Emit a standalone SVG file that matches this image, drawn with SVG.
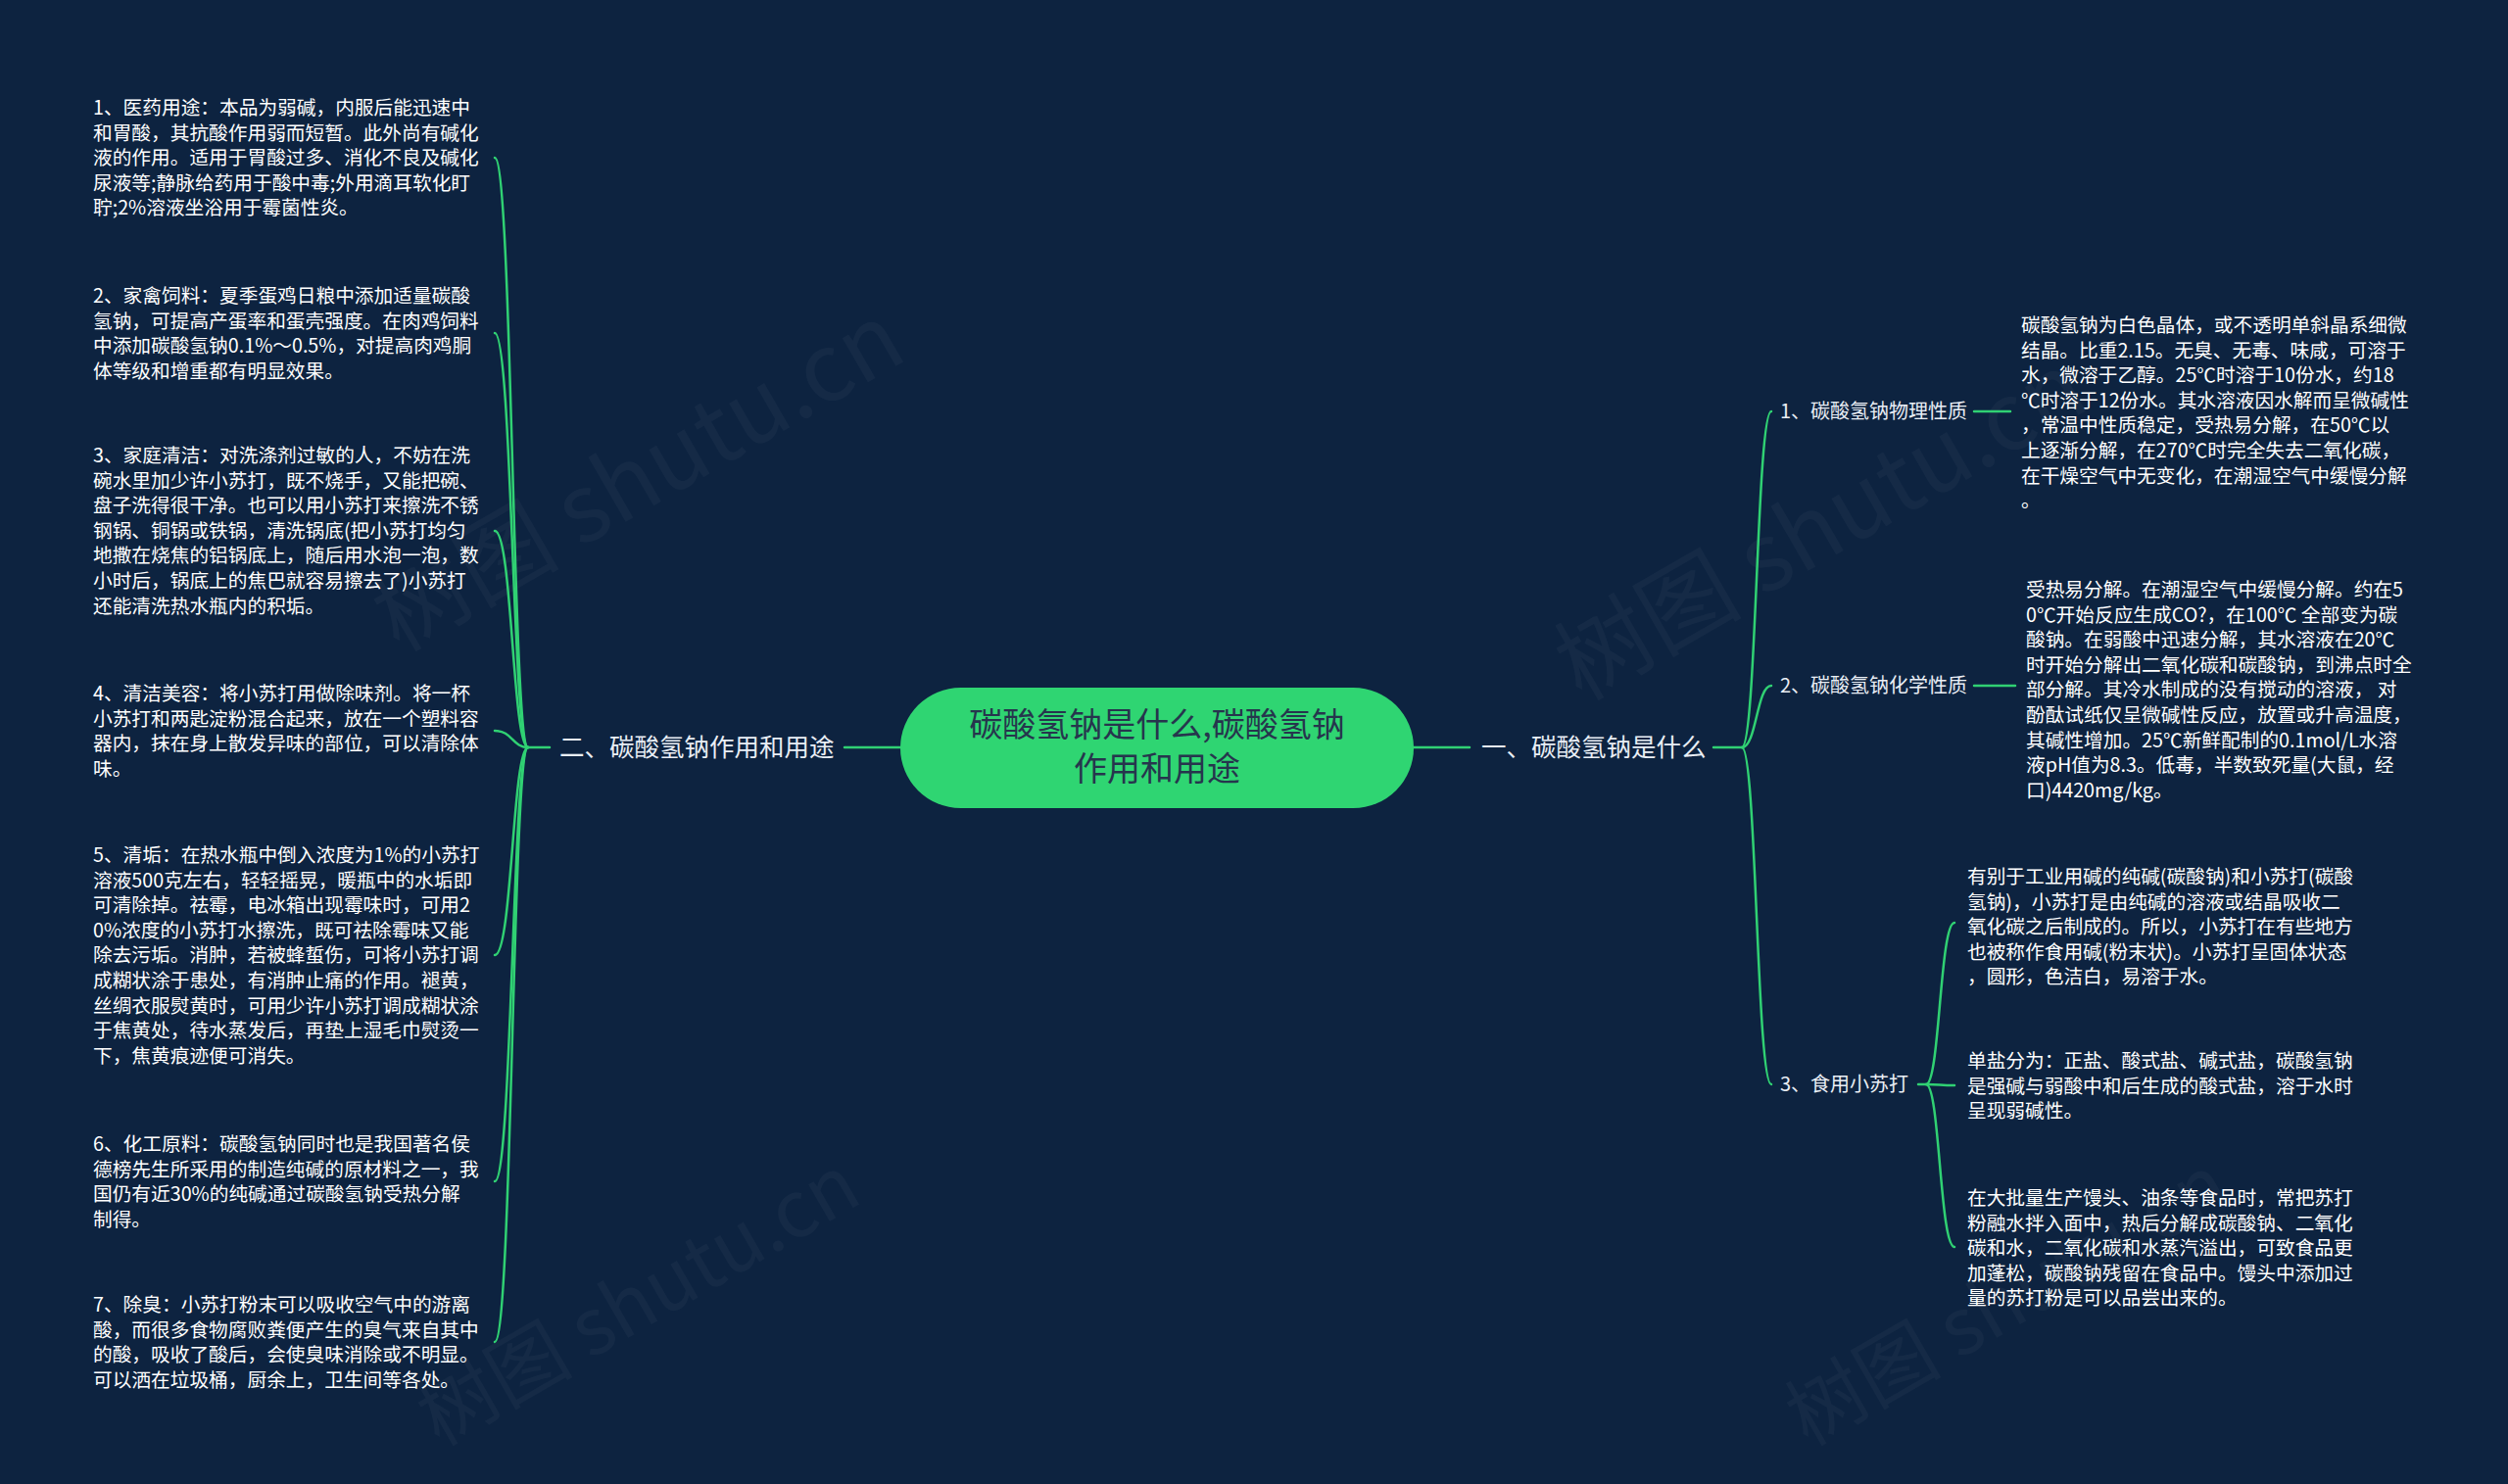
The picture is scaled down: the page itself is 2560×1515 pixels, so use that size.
<svg xmlns="http://www.w3.org/2000/svg" width="2560" height="1515" viewBox="0 0 2560 1515">
<style>
text{font-family:"Noto Sans CJK SC","Liberation Sans",sans-serif;}
.leaf{fill:#ffffff;font-size:19.7px;}
.br{fill:#e9eef5;font-size:25.5px;}
.sub{fill:#e9eef5;font-size:20px;}
.ctr{fill:#26354d;font-size:34px;}
.ln{fill:none;stroke:#30d173;stroke-width:2.5;stroke-linecap:round;}
.wm{fill:#ffffff;fill-opacity:0.035;font-size:96px;}
.wm2{fill:#ffffff;fill-opacity:0.035;font-size:80px;}
</style>
<rect x="0" y="0" width="2560" height="1515" fill="#0d2340"/>
<g id="watermarks">
<text class="wm" x="653" y="520" text-anchor="middle" transform="rotate(-30 653 490)">树图 shutu.cn</text>
<text class="wm" x="1860" y="570" text-anchor="middle" transform="rotate(-30 1860 540)">树图 shutu.cn</text>
<text class="wm2" x="653" y="1355" text-anchor="middle" transform="rotate(-30 653 1330)">树图 shutu.cn</text>
<text class="wm2" x="2050" y="1355" text-anchor="middle" transform="rotate(-30 2050 1330)">树图 shutu.cn</text>
</g>
<g id="connectors">
<path class="ln" d="M919 763 L862 763"/>
<path class="ln" d="M561 763 L539 763 C523 763 523 161 505 161"/>
<path class="ln" d="M539 763 C523 763 523 340 505 340"/>
<path class="ln" d="M539 763 C523 763 523 542 505 542"/>
<path class="ln" d="M539 763 C523 763 523 746 505 746"/>
<path class="ln" d="M539 763 C523 763 523 975 505 975"/>
<path class="ln" d="M539 763 C523 763 523 1206 505 1206"/>
<path class="ln" d="M539 763 C523 763 523 1370 505 1370"/>
<path class="ln" d="M1443 763 L1500 763"/>
<path class="ln" d="M1749 763 L1778 763 C1793 763 1793 420 1808 420"/>
<path class="ln" d="M1778 763 C1793 763 1793 700 1808 700"/>
<path class="ln" d="M1778 763 C1793 763 1793 1107 1808 1107"/>
<path class="ln" d="M2015 420 L2052 420"/>
<path class="ln" d="M2015 700 L2057 700"/>
<path class="ln" d="M1958 1107 L1966 1107 C1980 1107 1980 942 1995 942"/>
<path class="ln" d="M1966 1107 C1980 1107 1980 1108 1995 1108"/>
<path class="ln" d="M1966 1107 C1980 1107 1980 1273 1995 1273"/>
</g>
<g id="center">
<rect x="919" y="702" width="524" height="123" rx="61.5" fill="#2fd572"/>
<text class="ctr" x="1181" y="752" text-anchor="middle">碳酸氢钠是什么,碳酸氢钠</text>
<text class="ctr" x="1181" y="797" text-anchor="middle">作用和用途</text>
</g>
<g id="branch-left">
<text class="br" x="571" y="772">二、碳酸氢钠作用和用途</text>
</g>
<g id="branch-right">
<text class="br" x="1512" y="772">一、碳酸氢钠是什么</text>
</g>
<g id="sub-1">
<text class="sub" x="1817" y="427">1、碳酸氢钠物理性质</text>
</g>
<g id="sub-2">
<text class="sub" x="1817" y="707">2、碳酸氢钠化学性质</text>
</g>
<g id="sub-3">
<text class="sub" x="1817" y="1114">3、食用小苏打</text>
</g>
<g id="leaf-l1">
<text class="leaf" x="95" y="117">1、医药用途：本品为弱碱，内服后能迅速中</text>
<text class="leaf" x="95" y="142.6">和胃酸，其抗酸作用弱而短暂。此外尚有碱化</text>
<text class="leaf" x="95" y="168.2">液的作用。适用于胃酸过多、消化不良及碱化</text>
<text class="leaf" x="95" y="193.8">尿液等;静脉给药用于酸中毒;外用滴耳软化盯</text>
<text class="leaf" x="95" y="219.4">聍;2%溶液坐浴用于霉菌性炎。</text>
</g>
<g id="leaf-l2">
<text class="leaf" x="95" y="309">2、家禽饲料：夏季蛋鸡日粮中添加适量碳酸</text>
<text class="leaf" x="95" y="334.6">氢钠，可提高产蛋率和蛋壳强度。在肉鸡饲料</text>
<text class="leaf" x="95" y="360.2">中添加碳酸氢钠0.1%～0.5%，对提高肉鸡胴</text>
<text class="leaf" x="95" y="385.8">体等级和增重都有明显效果。</text>
</g>
<g id="leaf-l3">
<text class="leaf" x="95" y="472">3、家庭清洁：对洗涤剂过敏的人，不妨在洗</text>
<text class="leaf" x="95" y="497.6">碗水里加少许小苏打，既不烧手，又能把碗、</text>
<text class="leaf" x="95" y="523.2">盘子洗得很干净。也可以用小苏打来擦洗不锈</text>
<text class="leaf" x="95" y="548.8">钢锅、铜锅或铁锅，清洗锅底(把小苏打均匀</text>
<text class="leaf" x="95" y="574.4">地撒在烧焦的铝锅底上，随后用水泡一泡，数</text>
<text class="leaf" x="95" y="600">小时后，锅底上的焦巴就容易擦去了)小苏打</text>
<text class="leaf" x="95" y="625.6">还能清洗热水瓶内的积垢。</text>
</g>
<g id="leaf-l4">
<text class="leaf" x="95" y="715">4、清洁美容：将小苏打用做除味剂。将一杯</text>
<text class="leaf" x="95" y="740.6">小苏打和两匙淀粉混合起来，放在一个塑料容</text>
<text class="leaf" x="95" y="766.2">器内，抹在身上散发异味的部位，可以清除体</text>
<text class="leaf" x="95" y="791.8">味。</text>
</g>
<g id="leaf-l5">
<text class="leaf" x="95" y="880">5、清垢：在热水瓶中倒入浓度为1%的小苏打</text>
<text class="leaf" x="95" y="905.6">溶液500克左右，轻轻摇晃，暖瓶中的水垢即</text>
<text class="leaf" x="95" y="931.2">可清除掉。祛霉，电冰箱出现霉味时，可用2</text>
<text class="leaf" x="95" y="956.8">0%浓度的小苏打水擦洗，既可祛除霉味又能</text>
<text class="leaf" x="95" y="982.4">除去污垢。消肿，若被蜂蜇伤，可将小苏打调</text>
<text class="leaf" x="95" y="1008">成糊状涂于患处，有消肿止痛的作用。褪黄，</text>
<text class="leaf" x="95" y="1033.6">丝绸衣服熨黄时，可用少许小苏打调成糊状涂</text>
<text class="leaf" x="95" y="1059.2">于焦黄处，待水蒸发后，再垫上湿毛巾熨烫一</text>
<text class="leaf" x="95" y="1084.8">下，焦黄痕迹便可消失。</text>
</g>
<g id="leaf-l6">
<text class="leaf" x="95" y="1175">6、化工原料：碳酸氢钠同时也是我国著名侯</text>
<text class="leaf" x="95" y="1200.6">德榜先生所采用的制造纯碱的原材料之一，我</text>
<text class="leaf" x="95" y="1226.2">国仍有近30%的纯碱通过碳酸氢钠受热分解</text>
<text class="leaf" x="95" y="1251.8">制得。</text>
</g>
<g id="leaf-l7">
<text class="leaf" x="95" y="1339">7、除臭：小苏打粉末可以吸收空气中的游离</text>
<text class="leaf" x="95" y="1364.6">酸，而很多食物腐败粪便产生的臭气来自其中</text>
<text class="leaf" x="95" y="1390.2">的酸，吸收了酸后，会使臭味消除或不明显。</text>
<text class="leaf" x="95" y="1415.8">可以洒在垃圾桶，厨余上，卫生间等各处。</text>
</g>
<g id="leaf-r1">
<text class="leaf" x="2063" y="339">碳酸氢钠为白色晶体，或不透明单斜晶系细微</text>
<text class="leaf" x="2063" y="364.6">结晶。比重2.15。无臭、无毒、味咸，可溶于</text>
<text class="leaf" x="2063" y="390.2">水，微溶于乙醇。25℃时溶于10份水，约18</text>
<text class="leaf" x="2063" y="415.8">℃时溶于12份水。其水溶液因水解而呈微碱性</text>
<text class="leaf" x="2063" y="441.4">，常温中性质稳定，受热易分解，在50℃以</text>
<text class="leaf" x="2063" y="467">上逐渐分解，在270℃时完全失去二氧化碳，</text>
<text class="leaf" x="2063" y="492.6">在干燥空气中无变化，在潮湿空气中缓慢分解</text>
<text class="leaf" x="2063" y="518.2">。</text>
</g>
<g id="leaf-r2">
<text class="leaf" x="2068" y="609">受热易分解。在潮湿空气中缓慢分解。约在5</text>
<text class="leaf" x="2068" y="634.6">0℃开始反应生成CO?，在100℃ 全部变为碳</text>
<text class="leaf" x="2068" y="660.2">酸钠。在弱酸中迅速分解，其水溶液在20℃</text>
<text class="leaf" x="2068" y="685.8">时开始分解出二氧化碳和碳酸钠，到沸点时全</text>
<text class="leaf" x="2068" y="711.4">部分解。其冷水制成的没有搅动的溶液， 对</text>
<text class="leaf" x="2068" y="737">酚酞试纸仅呈微碱性反应，放置或升高温度，</text>
<text class="leaf" x="2068" y="762.6">其碱性增加。25℃新鲜配制的0.1mol/L水溶</text>
<text class="leaf" x="2068" y="788.2">液pH值为8.3。低毒，半数致死量(大鼠，经</text>
<text class="leaf" x="2068" y="813.8">口)4420mg/kg。</text>
</g>
<g id="leaf-r3a">
<text class="leaf" x="2008" y="902">有别于工业用碱的纯碱(碳酸钠)和小苏打(碳酸</text>
<text class="leaf" x="2008" y="927.6">氢钠)，小苏打是由纯碱的溶液或结晶吸收二</text>
<text class="leaf" x="2008" y="953.2">氧化碳之后制成的。所以，小苏打在有些地方</text>
<text class="leaf" x="2008" y="978.8">也被称作食用碱(粉末状)。小苏打呈固体状态</text>
<text class="leaf" x="2008" y="1004.4">，圆形，色洁白，易溶于水。</text>
</g>
<g id="leaf-r3b">
<text class="leaf" x="2008" y="1090">单盐分为：正盐、酸式盐、碱式盐，碳酸氢钠</text>
<text class="leaf" x="2008" y="1115.6">是强碱与弱酸中和后生成的酸式盐，溶于水时</text>
<text class="leaf" x="2008" y="1141.2">呈现弱碱性。</text>
</g>
<g id="leaf-r3c">
<text class="leaf" x="2008" y="1230">在大批量生产馒头、油条等食品时，常把苏打</text>
<text class="leaf" x="2008" y="1255.6">粉融水拌入面中，热后分解成碳酸钠、二氧化</text>
<text class="leaf" x="2008" y="1281.2">碳和水，二氧化碳和水蒸汽溢出，可致食品更</text>
<text class="leaf" x="2008" y="1306.8">加蓬松，碳酸钠残留在食品中。馒头中添加过</text>
<text class="leaf" x="2008" y="1332.4">量的苏打粉是可以品尝出来的。</text>
</g>
</svg>
